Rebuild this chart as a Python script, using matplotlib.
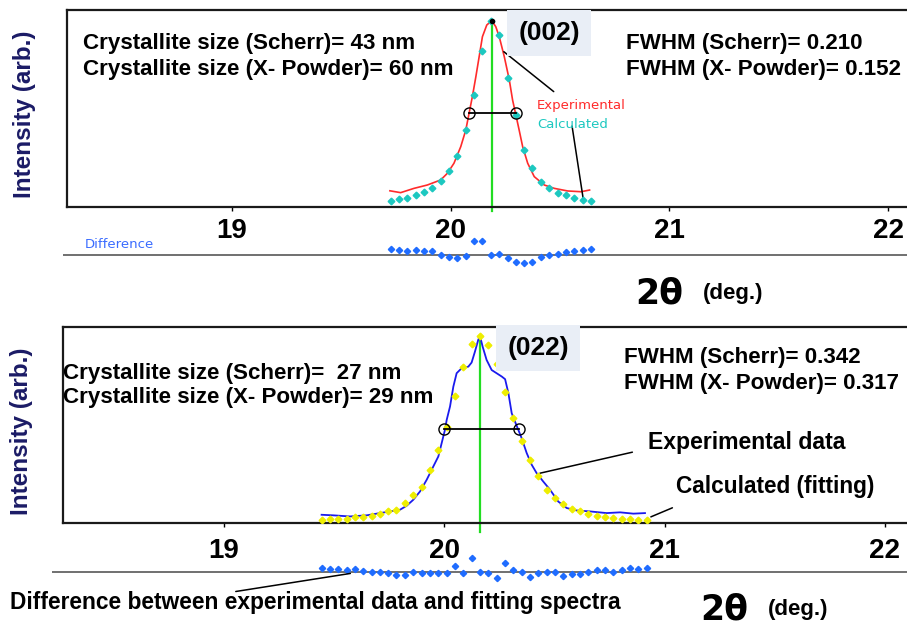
import matplotlib
matplotlib.use("Agg")
import matplotlib.pyplot as plt

# ---------------- data ----------------
# Panel (002): experimental curve
exp1_x = [19.722, 19.771, 19.832, 19.893, 19.954, 19.985, 20.015, 20.046, 20.069, 20.084,
          20.099, 20.115, 20.130, 20.145, 20.165, 20.188, 20.206, 20.222, 20.245, 20.268,
          20.283, 20.298, 20.313, 20.329, 20.352, 20.382, 20.428, 20.474, 20.535, 20.596, 20.635]
exp1_y = [8.7, 7.7, 10.0, 11.8, 14.5, 18.1, 23.5, 32.4, 41.3, 50.3,
          59.2, 69.9, 80.6, 91.4, 97.7, 100.0, 96.8, 91.4, 80.7, 68.2,
          57.4, 49.4, 41.3, 32.4, 23.5, 16.3, 11.8, 10.0, 8.6, 8.2, 9.1]
# Panel (002): calculated points and difference
calc1_x = [19.725, 19.763, 19.801, 19.840, 19.878, 19.916, 19.954, 19.992, 20.031, 20.069,
           20.107, 20.145, 20.183, 20.222, 20.260, 20.298, 20.336, 20.374, 20.413, 20.451,
           20.489, 20.527, 20.565, 20.604, 20.642]
calc1_y = [3.4, 4.1, 4.8, 6.6, 8.2, 10.2, 14.0, 19.3, 27.5, 41.3,
           60.1, 83.9, 100.0, 92.3, 69.1, 49.4, 30.6, 20.8, 13.6, 10.0,
           7.7, 6.4, 5.0, 3.8, 3.2]
diff1_y = [3.2, 2.5, 2.1, 2.5, 2.1, 1.8, -0.5, -1.2, -2.0, -0.9,
           7.5, 7.1, -0.5, 0.4, -2.1, -4.1, -4.3, -3.9, -1.2, -0.5,
           0.5, 1.4, 2.1, 2.5, 3.2]
peak1 = 20.188
fwhm1 = [20.084, 20.298]
half1 = 50.3

# Panel (022): experimental curve
exp2_x = [19.443, 19.496, 19.572, 19.648, 19.708, 19.754, 19.799, 19.829, 19.859, 19.890,
          19.920, 19.950, 19.973, 19.988, 20.003, 20.011, 20.026, 20.041, 20.056, 20.079,
          20.109, 20.124, 20.139, 20.154, 20.162, 20.174, 20.192, 20.215, 20.261, 20.276,
          20.291, 20.306, 20.321, 20.336, 20.351, 20.374, 20.397, 20.419, 20.449, 20.480,
          20.517, 20.556, 20.601, 20.661, 20.737, 20.798, 20.858, 20.911]
exp2_y = [4.4, 4.1, 3.5, 4.1, 5.3, 6.2, 7.1, 9.2, 12.4, 16.9,
          23.1, 30.2, 35.6, 42.7, 49.8, 55.2, 62.3, 72.9, 80.1, 82.8,
          83.6, 85.8, 91.6, 97.9, 100.0, 94.3, 87.2, 81.8, 78.3, 76.9,
          69.4, 58.7, 54.2, 49.8, 45.4, 37.4, 31.1, 26.7, 22.2, 17.8,
          11.5, 8.0, 6.7, 6.2, 5.3, 5.7, 5.0, 5.3]
calc2_x = [19.443, 19.481, 19.519, 19.557, 19.594, 19.632, 19.670, 19.708, 19.746, 19.783,
           19.821, 19.859, 19.897, 19.935, 19.973, 20.010, 20.048, 20.086, 20.124, 20.162,
           20.200, 20.237, 20.275, 20.313, 20.351, 20.389, 20.427, 20.464, 20.502, 20.540,
           20.578, 20.616, 20.654, 20.691, 20.729, 20.767, 20.805, 20.843, 20.881, 20.918]
calc2_y = [1.8, 2.1, 2.1, 2.3, 3.0, 3.2, 3.5, 4.6, 6.6, 7.1,
           10.7, 15.1, 19.5, 28.1, 39.1, 51.6, 68.0, 83.3, 95.7, 100.0,
           95.2, 85.1, 70.3, 56.1, 43.6, 33.8, 24.9, 17.8, 13.3, 10.1,
           7.5, 6.2, 4.8, 3.5, 3.0, 2.7, 2.3, 2.1, 1.8, 1.8]
diff2_y = [2.1, 1.4, 1.2, 0.9, 1.4, 0.4, 0.0, 0.0, -0.9, -1.8,
           -1.8, 0.0, -0.5, -0.5, -0.9, -0.9, 3.0, -0.9, 7.1, -0.4,
           -0.5, -3.2, 4.4, 0.9, 0.0, -2.7, -0.9, 0.0, 0.0, -2.1,
           -1.2, -1.2, 0.0, 0.9, 0.9, 0.0, 0.9, 1.8, 1.4, 1.8]
peak2 = 20.162
fwhm2 = [20.000, 20.339]
half2 = 50.2

ticks = [19, 20, 21, 22]
tick_labels = ["19", "20", "21", "22"]

# ---------------- layout ----------------
W, H = 907, 630
fig = plt.figure(figsize=(W / 100, H / 100), dpi=100)
fig.patch.set_facecolor("white")


def rect(l, t, r, b):
    return [l / W, 1 - b / H, (r - l) / W, (b - t) / H]


def fx(px):
    return px / W


def fy(py):
    return 1 - py / H


BOLD = dict(family="Liberation Sans", weight="bold")
RED = "#ff2b2b"
CYAN = "#1cc8c0"
GREEN = "#22dd22"
BLUE_LINE = "#1a1aee"
YELLOW = "#eeee00"
DBLUE = "#1f6cff"
NAVY = "#1b1b66"
FS = 16.1

# scale of each panel: px per degree, px of 19 deg; px per intensity unit
s1, o1, k1 = 218.7, 232.0, 1.863
s2, o2, k2 = 220.3, 224.0, 1.873


def style_main(ax, pad):
    for sp in ["top", "bottom", "left"]:
        ax.spines[sp].set_linewidth(1.6)
        ax.spines[sp].set_color("#1a1a1a")
    ax.spines["right"].set_visible(False)
    ax.set_yticks([])
    ax.set_xticks(ticks)
    ax.set_xticklabels(tick_labels)
    ax.tick_params(axis="x", direction="out", length=3, width=1, pad=pad,
                   labelsize=20)
    for lab in ax.get_xticklabels():
        lab.set_fontfamily("Liberation Sans")
        lab.set_fontweight("bold")


# ===== top panel =====
ax1 = fig.add_axes(rect(67, 10, 906, 207))
ax1.set_xlim(19 + (67 - o1) / s1, 19 + (906 - o1) / s1)
ax1.set_ylim(0, (207 - 10) / k1)
style_main(ax1, 5)
ax1.plot(exp1_x, exp1_y, color=RED, lw=1.2, zorder=3)
ax1.plot(calc1_x, calc1_y, ls="none", marker="D", ms=3.4, color=CYAN, zorder=4)
ax1.plot([peak1, peak1], [-2, 100], color=GREEN, lw=1.6, clip_on=False, zorder=2)
ax1.plot([peak1], [100], marker="o", ms=3, color="black", zorder=5)
ax1.plot(fwhm1, [half1, half1], color="black", lw=1.3, zorder=5)
ax1.plot(fwhm1, [half1, half1], ls="none", marker="o", ms=8, mfc="none",
         mec="black", mew=1.0, zorder=5)
ax1.annotate("", xy=(20.233, 84.3), xytext=(20.481, 61.0),
             arrowprops=dict(arrowstyle="-", color="black", lw=1.1))
ax1.annotate("", xy=(20.609, 2.0), xytext=(20.553, 44.9),
             arrowprops=dict(arrowstyle="-", color="black", lw=1.1))

axd1 = fig.add_axes(rect(63, 229.5, 907, 279.5))
axd1.set_xlim(19 + (63 - o1) / s1, 19 + (907 - o1) / s1)
axd1.set_ylim(-25 / k1, 25 / k1)
axd1.axis("off")
axd1.axhline(0, color="#707070", lw=1.4, zorder=1)
axd1.plot(calc1_x, diff1_y, ls="none", marker="D", ms=3.2, color=DBLUE, zorder=3)

fig.text(fx(85), fy(245), "Difference", color="#3a6cff", fontsize=9.5,
         family="DejaVu Sans", ha="left", va="center")
fig.text(fx(537), fy(106), "Experimental", color=RED, fontsize=9.5,
         family="DejaVu Sans", ha="left", va="center")
fig.text(fx(537), fy(125), "Calculated", color=CYAN, fontsize=9.5,
         family="DejaVu Sans", ha="left", va="center")

fig.text(fx(83), fy(43), "Crystallite size (Scherr)= 43 nm", fontsize=FS,
         ha="left", va="center", **BOLD)
fig.text(fx(83), fy(69), "Crystallite size (X- Powder)= 60 nm", fontsize=FS,
         ha="left", va="center", **BOLD)
fig.text(fx(626), fy(43), "FWHM (Scherr)= 0.210", fontsize=FS,
         ha="left", va="center", **BOLD)
fig.text(fx(626), fy(69), "FWHM (X- Powder)= 0.152", fontsize=FS,
         ha="left", va="center", **BOLD)
fig.text(fx(549), fy(33), "(002)", fontsize=19, ha="center", va="center",
         bbox=dict(boxstyle="square,pad=0.42", fc="#e9eef6", ec="none"), **BOLD)
fig.text(fx(25), fy(114), "Intensity (arb.)", rotation=90, fontsize=17.5,
         ha="center", va="center", color=NAVY, **BOLD)
fig.text(fx(635), fy(293), "2θ", fontsize=25, ha="left", va="center",
         family="DejaVu Sans", weight="bold")
fig.text(fx(703), fy(293), "(deg.)", fontsize=16, ha="left", va="center", **BOLD)

# ===== bottom panel =====
ax2 = fig.add_axes(rect(63, 327, 906, 523))
ax2.set_xlim(19 + (63 - o2) / s2, 19 + (906 - o2) / s2)
ax2.set_ylim(0, (523.3 - 327) / k2)
style_main(ax2, 8)
ax2.plot(exp2_x, exp2_y, color=BLUE_LINE, lw=1.3, zorder=3)
ax2.plot(calc2_x, calc2_y, ls="none", marker="D", ms=3.4, color=YELLOW, zorder=4)
ax2.plot([peak2, peak2], [-5, 100], color=GREEN, lw=1.6, clip_on=False, zorder=2)
ax2.plot(fwhm2, [half2, half2], color="black", lw=1.3, zorder=5)
ax2.plot(fwhm2, [half2, half2], ls="none", marker="o", ms=8, mfc="none",
         mec="black", mew=1.0, zorder=5)
ax2.annotate("", xy=(20.422, 26.3), xytext=(20.866, 38.2),
             arrowprops=dict(arrowstyle="-", color="black", lw=1.1))
ax2.annotate("", xy=(20.926, 2.7), xytext=(21.047, 8.7), annotation_clip=False,
             arrowprops=dict(arrowstyle="-", color="black", lw=1.1))

axd2 = fig.add_axes(rect(52, 546.7, 907, 596.7))
axd2.set_xlim(19 + (52 - o2) / s2, 19 + (907 - o2) / s2)
axd2.set_ylim(-25 / k2, 25 / k2)
axd2.axis("off")
axd2.axhline(0, color="#707070", lw=1.4, zorder=1)
axd2.plot(calc2_x, diff2_y, ls="none", marker="D", ms=3.2, color=DBLUE, zorder=3)
axd2.annotate("", xy=(19.586, -0.7), xytext=(19.041, -10.8),
              arrowprops=dict(arrowstyle="-", color="black", lw=1.1))

fig.text(fx(63), fy(373), "Crystallite size (Scherr)=  27 nm", fontsize=FS,
         ha="left", va="center", **BOLD)
fig.text(fx(63), fy(398), "Crystallite size (X- Powder)= 29 nm", fontsize=FS,
         ha="left", va="center", **BOLD)
fig.text(fx(624), fy(358), "FWHM (Scherr)= 0.342", fontsize=FS,
         ha="left", va="center", **BOLD)
fig.text(fx(624), fy(383), "FWHM (X- Powder)= 0.317", fontsize=FS,
         ha="left", va="center", **BOLD)
fig.text(fx(538), fy(348), "(022)", fontsize=19, ha="center", va="center",
         bbox=dict(boxstyle="square,pad=0.42", fc="#e9eef6", ec="none"), **BOLD)
fig.text(fx(648), fy(442), "Experimental data", fontsize=16.6,
         ha="left", va="center", **BOLD)
fig.text(fx(676), fy(487), "Calculated (fitting)", fontsize=16.3,
         ha="left", va="center", **BOLD)
fig.text(fx(22), fy(431), "Intensity (arb.)", rotation=90, fontsize=17.5,
         ha="center", va="center", color=NAVY, **BOLD)
fig.text(fx(10), fy(602), "Difference between experimental data and fitting spectra",
         fontsize=16.4, ha="left", va="center", **BOLD)
fig.text(fx(700), fy(610), "2θ", fontsize=25, ha="left", va="center",
         family="DejaVu Sans", weight="bold")
fig.text(fx(768), fy(610), "(deg.)", fontsize=16, ha="left", va="center", **BOLD)

fig.savefig("out.png", dpi=100)
